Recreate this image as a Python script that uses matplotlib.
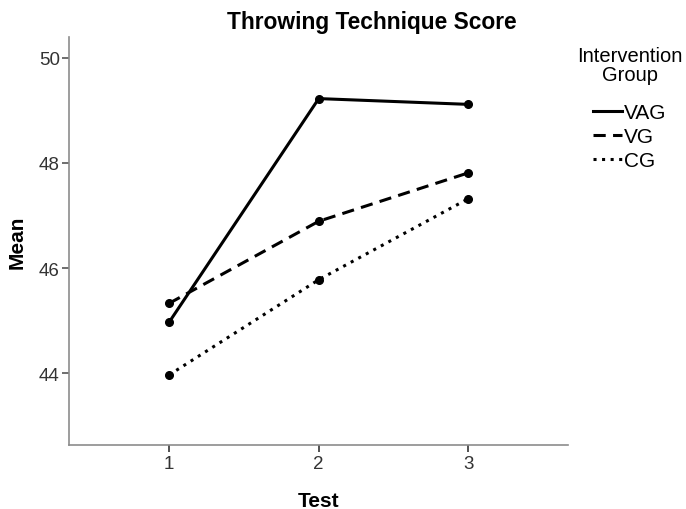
import matplotlib.pyplot as plt

plt.rcParams['font.family'] = ['Liberation Sans', 'DejaVu Sans']

tests = [1, 2, 3]
vag = [44.97, 49.22, 49.11]
vg = [45.33, 46.89, 47.81]
cg = [43.97, 45.78, 47.32]
groups = ['VAG', 'VG', 'CG']

fig = plt.figure(figsize=(6.86, 5.10), dpi=100)
ax = fig.add_axes([0.1013, 0.1255, 0.7267, 0.80])

ax.plot(tests, vag, color='black', linewidth=2.2, linestyle='-',
        marker='o', markersize=5.5, label=groups[0])
ax.plot(tests, vg, color='black', linewidth=2.2, linestyle=(0, (4, 2.4)),
        marker='o', markersize=5.5, label=groups[1])
ax.plot(tests, cg, color='black', linewidth=2.2, linestyle=(0, (1, 1.8)),
        marker='o', markersize=5.5, label=groups[2])

ax.set_xlim(0.335, 3.665)
ax.set_ylim(42.64, 50.39)
ax.set_xticks(tests)
ax.set_yticks([44, 46, 48, 50])

for s in ['top', 'right']:
    ax.spines[s].set_visible(False)
for s in ['left', 'bottom']:
    ax.spines[s].set_color('#8c8c8c')
    ax.spines[s].set_linewidth(1.2)
ax.tick_params(axis='y', colors='#555555', labelcolor='#333333', labelsize=13.5, length=5, width=1.2, pad=2)
ax.tick_params(axis='x', colors='#333333', labelcolor='#333333', labelsize=13.5, length=5, width=1.2, pad=2)

# title sits centred over the plot plus legend area
fig.text(0.542, 0.943, 'Throwing Technique Score', fontsize=16.4, fontweight='bold',
         ha='center', va='baseline')
ax.set_xlabel('Test', fontsize=15, fontweight='bold', labelpad=14)
ax.set_ylabel('Mean', fontsize=15, fontweight='bold', labelpad=9)

# legend title drawn on its own so the gap to the entries can be set
fig.text(0.918, 1 - 47 / 510, 'Intervention\nGroup', fontsize=14.5, ha='center',
         va='top', multialignment='center', linespacing=1.0)
leg = fig.legend(loc='upper center', bbox_to_anchor=(0.918, 1 - 104 / 510),
                 frameon=False, fontsize=15, handlelength=1.35,
                 handletextpad=0.1, labelspacing=0.25, borderpad=0, borderaxespad=0)
for h in leg.legend_handles:
    h.set_marker('')

plt.savefig('out.png', dpi=100)
